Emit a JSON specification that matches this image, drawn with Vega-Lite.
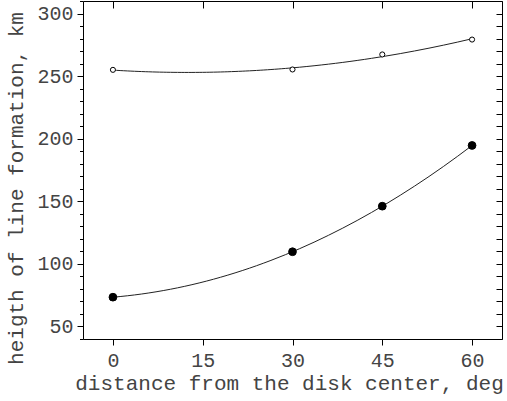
{
  "$schema": "https://vega.github.io/schema/vega-lite/v6.json",
  "width": 419,
  "height": 338,
  "autosize": {"type": "none"},
  "padding": {"left": 83, "top": 1, "right": 5, "bottom": 62},
  "background": "white",
  "config": {
    "view": {"stroke": "black", "strokeWidth": 1},
    "font": "Liberation Mono",
    "axis": {
      "domain": false,
      "grid": false,
      "labelFont": "Liberation Mono",
      "titleFont": "Liberation Mono",
      "labelFontSize": 20,
      "titleFontSize": 21,
      "labelColor": "#444",
      "titleColor": "#444",
      "titleFontWeight": "normal",
      "tickColor": "black",
      "tickWidth": 1
    }
  },
  "data": {
    "values": [
      {"d": 0, "h": 255.0, "series": "open"},
      {"d": 30, "h": 255.3, "series": "open"},
      {"d": 45, "h": 267.3, "series": "open"},
      {"d": 60, "h": 279.2, "series": "open"},
      {"d": 0, "h": 73.4, "series": "filled"},
      {"d": 30, "h": 109.7, "series": "filled"},
      {"d": 45, "h": 146.1, "series": "filled"},
      {"d": 60, "h": 194.6, "series": "filled"}
    ]
  },
  "resolve": {"axis": {"x": "independent", "y": "independent"}},
  "layer": [
    {
      "transform": [
        {"regression": "h", "on": "d", "groupby": ["series"], "method": "poly", "order": 2, "extent": [0, 60]}
      ],
      "mark": {"type": "line", "color": "#222", "strokeWidth": 1},
      "encoding": {
        "x": {
          "field": "d", "type": "quantitative",
          "scale": {"domain": [-5, 65], "nice": false, "zero": false},
          "axis": {
            "orient": "bottom", "values": [0, 15, 30, 45, 60],
            "title": "distance from the disk center, deg",
            "tickSize": 6, "labelPadding": 5,
            "titleX": 206, "titleY": 50, "titleBaseline": "alphabetic", "titleAnchor": "middle", "titleAlign": "center"
          }
        },
        "y": {
          "field": "h", "type": "quantitative",
          "scale": {"domain": [40, 310], "nice": false, "zero": false},
          "axis": {
            "orient": "left",
            "values": [40, 50, 60, 70, 80, 90, 100, 110, 120, 130, 140, 150, 160, 170, 180, 190, 200, 210, 220, 230, 240, 250, 260, 270, 280, 290, 300, 310],
            "labelExpr": "datum.value % 50 == 0 && datum.value >= 50 && datum.value <= 300 ? datum.label : ''",
            "tickSize": {"condition": {"test": "datum.value % 50 == 0", "value": 6}, "value": 3.5},
            "labelPadding": 4,
            "title": "heigth of line formation, km",
            "titleX": -57, "titleY": 187, "titleAnchor": "middle", "titleAlign": "center"
          }
        },
        "detail": {"field": "series"}
      }
    },
    {
      "mark": {"type": "point", "shape": "circle", "filled": true, "stroke": "black", "strokeWidth": 1, "opacity": 1},
      "encoding": {
        "x": {
          "field": "d", "type": "quantitative",
          "axis": {"orient": "top", "values": [0, 15, 30, 45, 60], "labels": false, "title": null, "tickSize": -7}
        },
        "y": {
          "field": "h", "type": "quantitative",
          "axis": {
            "orient": "right",
            "values": [40, 50, 60, 70, 80, 90, 100, 110, 120, 130, 140, 150, 160, 170, 180, 190, 200, 210, 220, 230, 240, 250, 260, 270, 280, 290, 300, 310],
            "labels": false, "title": null, "tickSize": -6
          }
        },
        "fill": {"field": "series", "type": "nominal", "scale": {"domain": ["open", "filled"], "range": ["white", "black"]}, "legend": null},
        "size": {"field": "series", "type": "nominal", "scale": {"domain": ["open", "filled"], "range": [26, 60]}, "legend": null}
      }
    }
  ]
}
